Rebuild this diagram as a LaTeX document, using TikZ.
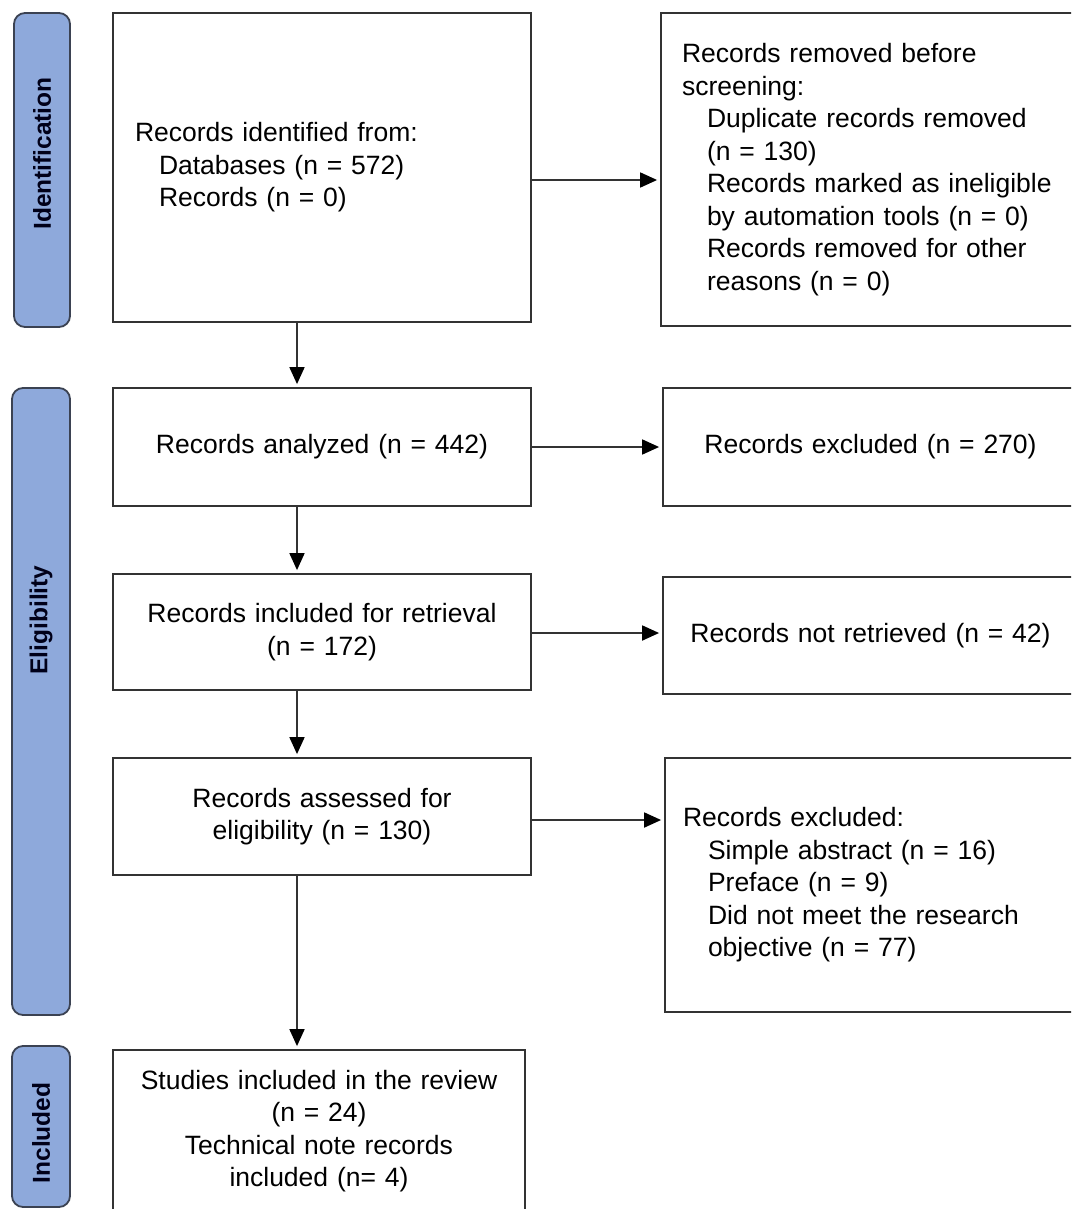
\documentclass[tikz,border=0pt]{standalone}
\usepackage{fontspec}
\setmainfont{Liberation Sans}
\usetikzlibrary{arrows.meta}
\definecolor{lab}{HTML}{8EA9DB}
\definecolor{labedge}{HTML}{3B4252}
\definecolor{boxedge}{HTML}{333333}
\begin{document}
\begin{tikzpicture}[x=1pt,y=-1pt,
 box/.style={draw=boxedge,line width=1.8pt,rectangle,inner sep=0pt,font=\fontsize{26.5}{32.5}\selectfont},
 phase/.style={draw=labedge,fill=lab,line width=1.8pt,rounded corners=11pt,inner sep=0pt},
 phasetext/.style={rotate=90,inner sep=0pt,font=\bfseries\fontsize{24.5}{28}\selectfont,text=black!90!blue},
 arr/.style={line width=1.8pt,draw=black!80,shorten >=3pt,-{Triangle[length=17pt,width=15pt,color=black]}}]
\useasboundingbox (0,0) rectangle (1071,1209);
\clip (0,0) rectangle (1071,1209);
\fill[white] (0,0) rectangle (1071,1209);
% phase labels
\node[phase, minimum width=56pt, minimum height=314pt] (p1) at (42,170) {};
\node[phase, minimum width=58pt, minimum height=627pt] (p2) at (41,701.5) {};
\node[phase, minimum width=58pt, minimum height=161pt] (p3) at (41,1126.5) {};
\node[phasetext] (t1) at (42,153.5) {Identification};
\node[phasetext] (t2) at (41,620) {Eligibility};
\node[phasetext] (t3) at (41,1133) {Included};
% left column
\node[box, minimum width=418pt, minimum height=309pt, text width=374pt, align=left] (b1) at (322,167.5)
 {Records identified from:\\\hspace*{24pt}Databases (n = 572)\\\hspace*{24pt}Records (n = 0)};
\node[box, minimum width=418pt, minimum height=118pt, text width=400pt, align=center] (b2) at (322,447)
 {Records analyzed (n = 442)};
\node[box, minimum width=418pt, minimum height=116pt, text width=400pt, align=center] (b3) at (322,632)
 {Records included for retrieval\\(n = 172)};
\node[box, minimum width=418pt, minimum height=117pt, text width=400pt, align=center] (b4) at (322,816.5)
 {Records assessed for\\eligibility (n = 130)};
\node[box, minimum width=412pt, minimum height=162pt, text width=400pt, align=center] (b5) at (319,1131)
 {Studies included in the review\\(n = 24)\\Technical note records\\included (n= 4)};
% right column
\node[box, minimum width=417pt, minimum height=313pt, text width=375pt, align=left] (r1) at (869.5,169.5)
 {Records removed before\\screening:\\\hspace*{25pt}Duplicate records removed\\\hspace*{25pt}(n = 130)\\\hspace*{25pt}Records marked as ineligible\\\hspace*{25pt}by automation tools (n = 0)\\\hspace*{25pt}Records removed for other\\\hspace*{25pt}reasons (n = 0)};
\node[box, minimum width=415pt, minimum height=118pt, text width=400pt, align=center] (r2) at (870.5,447)
 {Records excluded (n = 270)};
\node[box, minimum width=415pt, minimum height=117pt, text width=400pt, align=center] (r3) at (870.5,635.5)
 {Records not retrieved (n = 42)};
\node[box, minimum width=413pt, minimum height=254pt, text width=377pt, align=left] (r4) at (871.5,885)
 {Records excluded:\\\hspace*{25pt}Simple abstract (n = 16)\\\hspace*{25pt}Preface (n = 9)\\\hspace*{25pt}Did not meet the research\\\hspace*{25pt}objective (n = 77)};
% connectors
\coordinate (ax) at (297,0);
\coordinate (h1) at (0,180);
\coordinate (h3) at (0,633);
\coordinate (h4) at (0,820);
\draw[arr] (b1.south -| ax) -- (b2.north -| ax);
\draw[arr] (b2.south -| ax) -- (b3.north -| ax);
\draw[arr] (b3.south -| ax) -- (b4.north -| ax);
\draw[arr] (b4.south -| ax) -- (b5.north -| ax);
\draw[arr] (b1.east |- h1) -- (r1.west |- h1);
\draw[arr] (b2.east) -- (r2.west |- b2.east);
\draw[arr] (b3.east |- h3) -- (r3.west |- h3);
\draw[arr] (b4.east |- h4) -- (r4.west |- h4);
\end{tikzpicture}
\end{document}
